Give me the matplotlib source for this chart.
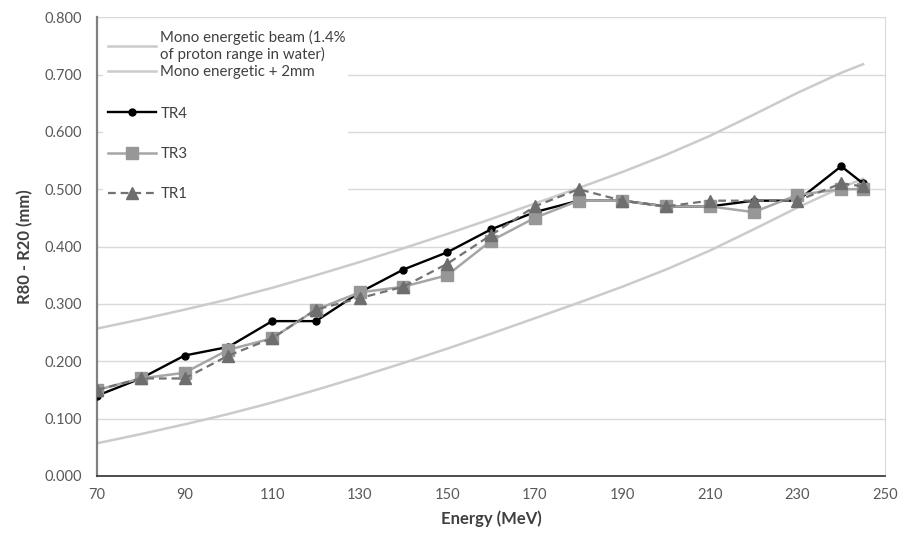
import matplotlib
matplotlib.use("Agg")
import matplotlib.pyplot as plt

plt.rcParams['font.family'] = ['Lato', 'DejaVu Sans']

# reference curves (mono energetic beam and +2mm)
ref_energy = [70, 80, 90, 100, 110, 120, 130, 140, 150, 160, 170, 180,
              190, 200, 210, 220, 230, 240, 245]
mono = [0.057, 0.073, 0.090, 0.108, 0.128, 0.150, 0.173, 0.197, 0.222,
        0.248, 0.275, 0.302, 0.330, 0.360, 0.393, 0.430, 0.468, 0.503, 0.518]
mono_2mm = [0.257, 0.273, 0.290, 0.308, 0.328, 0.350, 0.373, 0.397, 0.422,
            0.448, 0.475, 0.502, 0.530, 0.560, 0.593, 0.630, 0.668, 0.703, 0.718]

# measured R80-R20
energy = [70, 80, 90, 100, 110, 120, 130, 140, 150, 160, 170, 180,
          190, 200, 210, 220, 230, 240, 245]
tr4 = [0.140, 0.170, 0.210, 0.225, 0.270, 0.270, 0.320, 0.360, 0.390, 0.430,
       0.460, 0.480, 0.480, 0.470, 0.470, 0.480, 0.480, 0.540, 0.510]
tr3 = [0.150, 0.170, 0.180, 0.220, 0.240, 0.290, 0.320, 0.330, 0.350, 0.410,
       0.450, 0.480, 0.480, 0.470, 0.470, 0.460, 0.490, 0.500, 0.500]
tr1 = [0.150, 0.170, 0.170, 0.210, 0.240, 0.290, 0.310, 0.330, 0.370, 0.420,
       0.470, 0.500, 0.480, 0.470, 0.480, 0.480, 0.480, 0.510, 0.505]

yticks = [0.0, 0.1, 0.2, 0.3, 0.4, 0.5, 0.6, 0.7, 0.8]
xticks = [70, 90, 110, 130, 150, 170, 190, 210, 230, 250]

fig = plt.figure(figsize=(9.12, 5.36), dpi=100)
ax = fig.add_axes([0.1064, 0.112, 0.8640, 0.856])

ref_col = '#cbcbcb'
l_mono, = ax.plot(ref_energy, mono, color=ref_col, lw=1.8, zorder=2)
l_2mm, = ax.plot(ref_energy, mono_2mm, color=ref_col, lw=1.8, zorder=2)

l4, = ax.plot(energy, tr4, color='black', lw=1.7, marker='o', ms=5,
              mfc='black', mec='black', zorder=3)
l3, = ax.plot(energy, tr3, color='#a6a6a6', lw=1.8, marker='s', ms=8.5,
              mfc='#979797', mec='#979797', zorder=4)
l1, = ax.plot(energy, tr1, color='#727272', lw=1.6, ls=(0, (3.5, 2.2)),
              marker='^', ms=8, mfc='#6e6e6e', mec='#6e6e6e', zorder=5)

ax.set_xlim(70, 250)
ax.set_ylim(0, 0.8)
ax.set_xticks(xticks)
ax.set_yticks(yticks)
ax.set_yticklabels(['%.3f' % v for v in yticks])
ax.tick_params(axis='both', length=0, labelsize=10.5, colors='#595959')
ax.tick_params(axis='y', pad=11)
ax.tick_params(axis='x', pad=9)

ax.grid(axis='y', color='#d9d9d9', lw=1)
ax.set_axisbelow(True)
ax.spines['top'].set_visible(False)
ax.spines['right'].set_color('#d9d9d9')
ax.spines['left'].set_color('#808080')
ax.spines['left'].set_linewidth(1.6)
ax.spines['bottom'].set_color('#404040')
ax.spines['bottom'].set_linewidth(1.3)

ax.set_xlabel('Energy (MeV)', fontsize=12, fontweight='bold', color='#404040', labelpad=6)
ax.set_ylabel('R80 - R20 (mm)', fontsize=12, fontweight='bold', color='#404040', labelpad=8)

# legends: reference curves tight, measured series spread out
leg1 = ax.legend([l_mono, l_2mm],
                 ['Mono energetic beam (1.4%\nof proton range in water)',
                  'Mono energetic + 2mm'],
                 loc='upper left', bbox_to_anchor=(0.008, 0.982, 0.31, 0.0),
                 mode='expand', frameon=True, fancybox=False, framealpha=1,
                 edgecolor='none', facecolor='white', fontsize=10.8,
                 labelcolor='#404040', handlelength=3.2, handletextpad=0.3,
                 labelspacing=0.2, borderpad=0.3, borderaxespad=0)
ax.add_artist(leg1)

ax.legend([l4, l3, l1], ['TR4', 'TR3', 'TR1'],
          loc='upper left', bbox_to_anchor=(0.008, 0.815, 0.31, 0.0),
          mode='expand', frameon=True, fancybox=False, framealpha=1,
          edgecolor='none', facecolor='white', fontsize=10.8,
          labelcolor='#404040', handlelength=3.2, handletextpad=0.3,
          labelspacing=1.75, borderpad=0.3, borderaxespad=0)

fig.savefig('out.png', dpi=100)
